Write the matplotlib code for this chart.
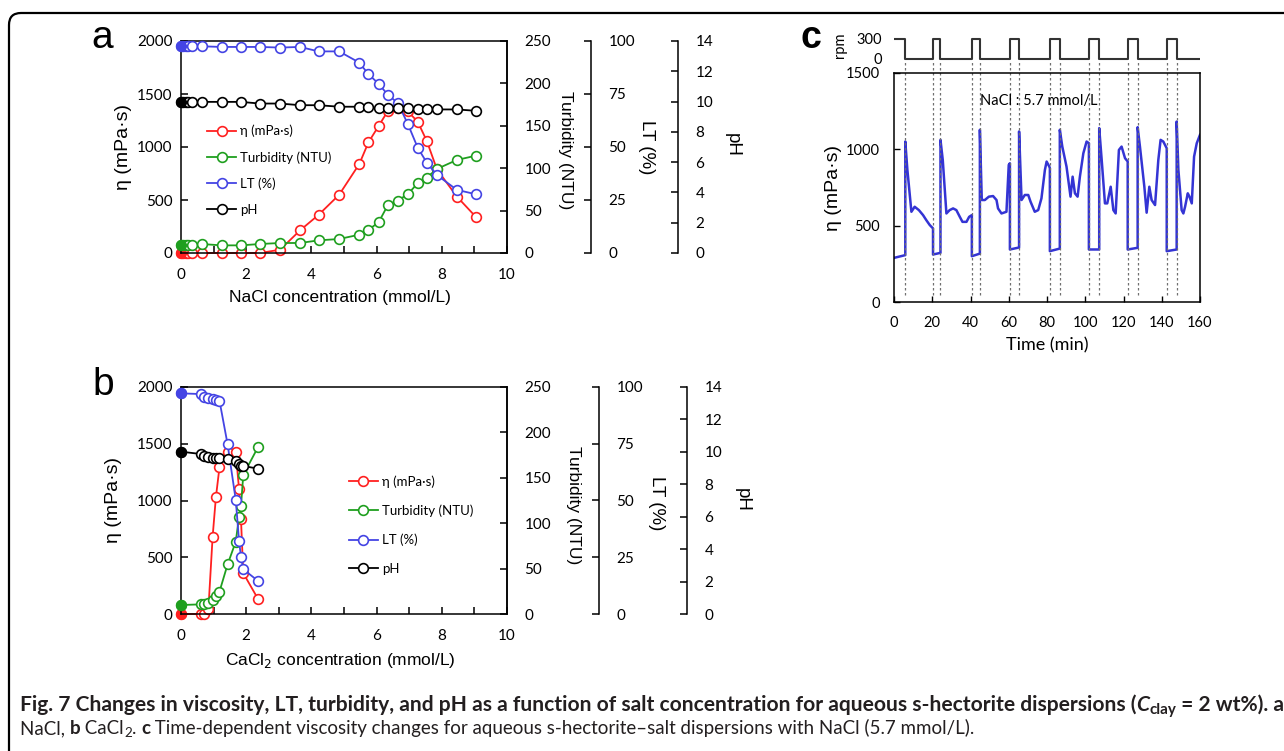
import matplotlib.pyplot as plt
from matplotlib.patches import FancyBboxPatch
from matplotlib.transforms import IdentityTransform, blended_transform_factory

# ---------------- a : NaCl ----------------
nacl = [0, 0.07, 0.14, 0.22, 0.33, 0.63, 1.25, 1.83, 2.42, 3.04, 3.65, 4.22,
        4.85, 5.47, 5.75, 6.06, 6.35, 6.65, 6.96, 7.26, 7.54, 7.85, 8.46, 9.05]
eta_a = [0, 0, 0, 0, 0, 0, 0, 0, 0, 31, 213, 360,
         549, 840, 1044, 1197, 1342, 1370, 1335, 1239, 1057, 790, 533, 339]
turb_a = [9.0, 9.0, 9.0, 9.0, 9.0, 10.6, 9.0, 9.0, 10.6, 11.8, 11.8, 14.9,
          16.5, 21.6, 27.4, 36.1, 56.8, 61.9, 69.4, 82.3, 89.0, 99.1, 109.7, 114.8]
lt_a = [97.6, 97.6, 97.6, 97.6, 97.6, 97.5, 97.2, 97.2, 97.2, 96.9, 97.2, 95.1,
        95.1, 89.8, 84.3, 79.9, 74.5, 70.8, 60.8, 49.7, 42.6, 36.8, 29.8, 27.7]
ph_a = [9.98, 9.98, 9.98, 9.98, 9.98, 9.98, 9.98, 9.98, 9.87, 9.87, 9.76, 9.76,
        9.66, 9.66, 9.66, 9.55, 9.55, 9.60, 9.55, 9.48, 9.48, 9.48, 9.48, 9.39]

# ---------------- b : CaCl2 ----------------
cacl = [0, 0.60, 0.72, 0.84, 0.97, 1.07, 1.18, 1.43, 1.68, 1.78, 1.84, 1.91, 2.37]
eta_b = [0, 0, 0, 40, 681, 1028, 1292, 1425, 1425, 1100, 834, 360, 129]
turb_b = [9.9, 10.6, 11.0, 12.5, 15.4, 20.0, 24.6, 54.7, 79.7, 107.2, 118.9, 153.1, 184.3]
lt_b = [97.2, 96.9, 95.7, 95.3, 94.7, 94.3, 94.0, 74.7, 50.2, 32.2, 25.3, 19.7, 14.5]
ph_b = [10.01, 9.87, 9.74, 9.66, 9.62, 9.62, 9.62, 9.54, 9.44, 9.25, 9.15, 9.13, 8.96]

# ---------------- c : time series, NaCl 5.7 mmol/L ----------------
time_c = [0, 5.9,
          5.9, 7.0, 9.1, 10.8, 13.0, 15.2, 16.9, 18.7, 20.4,
          20.4, 24.3,
          24.3, 25.5, 27.4, 29.1, 30.9, 32.6, 34.4, 35.8, 37.9, 39.3, 40.7,
          40.7, 44.9,
          44.9, 45.9, 47.5, 49.6, 51.8, 53.6, 54.4, 56.2, 58.8, 60.0, 60.6,
          60.6, 65.4,
          65.4, 66.7, 68.4, 70.2, 71.4, 73.6, 75.4, 77.1, 78.9, 79.8, 81.2, 81.5,
          81.5, 86.7,
          86.7, 88.0, 90.2, 92.3, 93.4, 94.6, 96.0, 97.2, 99.0, 100.7, 101.9,
          101.9, 107.3,
          107.3, 108.6, 110.3, 111.5, 113.3, 114.7, 115.9, 117.6, 119.0, 120.8, 122.2,
          122.2, 127.4,
          127.4, 128.6, 130.9, 132.1, 133.5, 134.7, 136.5, 138.2, 139.4, 140.8, 142.6,
          142.6, 147.8,
          147.8, 148.7, 150.4, 151.3, 152.2, 153.6, 154.5, 155.7, 156.9, 158.3, 160.0]
eta_c = [289, 307,
         1051, 865, 591, 624, 602, 569, 536, 504, 482,
         311, 322,
         1062, 930, 580, 602, 613, 602, 558, 525, 525, 558, 569,
         300, 317,
         1128, 668, 668, 690, 694, 668, 613, 580, 591, 898, 909,
         344, 357,
         1117, 668, 701, 701, 657, 591, 602, 679, 865, 920, 887, 876,
         333, 350,
         1128, 1018, 887, 690, 821, 712, 690, 821, 974, 1051, 1040,
         344, 344,
         1139, 930, 646, 646, 755, 602, 580, 996, 1018, 942, 920,
         344, 355,
         1145, 1018, 755, 585, 755, 668, 635, 930, 1062, 1051, 1007,
         333, 344,
         1182, 865, 602, 580, 624, 712, 690, 646, 952, 1040, 1095]
rpm_t = [0, 5.9, 20.4, 24.3, 40.7, 44.9, 60.6, 65.4, 81.5, 86.7,
         101.9, 107.3, 122.2, 127.4, 142.6, 147.8, 160]
rpm_v = [300, 0, 300, 0, 300, 0, 300, 0, 300, 0, 300, 0, 300, 0, 300, 0, 0]

W, H = 1284, 751
PT = 0.72  # points per pixel at dpi 100
plt.rcParams['font.family'] = ['Lato', 'DejaVu Sans']
plt.rcParams['axes.linewidth'] = 1.1
fig = plt.figure(figsize=(W / 100, H / 100), dpi=100)

RED, GREEN, BLUE = '#ff2020', '#1f9f1f', '#4444e4'
LAB = ['Liberation Sans', 'DejaVu Sans']
TS = 11


def box(l, t, r, b):
    return [l / W, 1 - b / H, (r - l) / W, (b - t) / H]


def put(x, y, s, **kw):
    kw.setdefault('ha', 'center')
    kw.setdefault('va', 'center')
    return fig.text(x / W, 1 - y / H, s, **kw)


def salt_panel(top, bottom, x, eta, turb, lt, ph, outs, leg_xy, leg_sp):
    ax = fig.add_axes(box(181, top, 507, bottom))
    ax_t = ax.twinx()
    ax_l = ax.twinx()
    ax_p = ax.twinx()
    series = [(ax, eta, RED, 'η (mPa·s)'), (ax_t, turb, GREEN, 'Turbidity (NTU)'),
              (ax_l, lt, BLUE, 'LT (%)'), (ax_p, ph, 'black', 'pH')]
    handles = []
    for a, y, c, lab in series:
        h, = a.plot(x, y, '-o', color=c, mfc='white', mec=c, ms=7, mew=1.2,
                    lw=1.3, label=lab, clip_on=False)
        a.plot(x[:1], y[:1], 'o', color=c, ms=7, clip_on=False)
        handles.append(h)

    ax.set_xlim(0, 10)
    ax.set_ylim(0, 2000)
    ax.set_yticks(range(0, 2001, 500))
    ax.set_xticks(range(11))
    ax.set_xticklabels([str(v) if v % 2 == 0 else '' for v in range(11)])
    ax.tick_params(direction='in', length=5, width=1.1, labelsize=TS)
    ax.tick_params(axis='x', pad=11)
    ax.tick_params(axis='y', pad=6)

    ax_t.set_ylim(0, 250)
    ax_t.set_yticks(range(0, 251, 50))
    ax_l.set_ylim(0, 100)
    ax_l.set_yticks(range(0, 101, 25))
    ax_p.set_ylim(0, 14)
    ax_p.set_yticks(range(0, 15, 2))
    ax_l.spines['right'].set_position(('outward', outs[0] * PT))
    ax_p.spines['right'].set_position(('outward', outs[1] * PT))
    for a in (ax_t, ax_l, ax_p):
        for s in ('left', 'top', 'bottom'):
            a.spines[s].set_visible(False)
        a.tick_params(axis='y', direction='in', length=5, width=1.1,
                      pad=12.5, labelsize=TS)

    ax_p.legend(handles, [h.get_label() for h in handles], loc='upper left',
                bbox_to_anchor=leg_xy, frameon=False, fontsize=9.5,
                handlelength=2.2, handletextpad=0.3, labelspacing=leg_sp,
                borderaxespad=0, borderpad=0)
    return ax


# panel a
salt_panel(41, 253, nacl, eta_a, turb_a, lt_a, ph_a, (84, 171), (0.08, 0.605), 1.05)
put(102, 38, 'a', fontsize=28, family=LAB)
put(123, 147, 'η (mPa·s)', rotation=90, fontsize=14, family=LAB)
put(340, 298, 'NaCl concentration (mmol/L)', fontsize=12.5, family=LAB)
put(565, 150, 'Turbidity (NTU)', rotation=-90, fontsize=12.5, family=LAB)
put(647, 147, 'LT (%)', rotation=-90, fontsize=13.5, family=LAB)
put(732, 145, 'pH', rotation=-90, fontsize=13.5, family=LAB)

# panel b
salt_panel(387, 614, cacl, eta_b, turb_b, lt_b, ph_b, (92, 180), (0.515, 0.61), 1.25)
put(103, 385, 'b', fontsize=28, family=LAB)
put(114, 500, 'η (mPa·s)', rotation=90, fontsize=14, family=LAB)
put(340, 661, 'CaCl$_2$ concentration (mmol/L)', fontsize=12.5, family=LAB)
put(573, 505, 'Turbidity (NTU)', rotation=-90, fontsize=12.5, family=LAB)
put(657, 503, 'LT (%)', rotation=-90, fontsize=13.5, family=LAB)
put(742, 500, 'pH', rotation=-90, fontsize=13.5, family=LAB)

# panel c
ax_c = fig.add_axes(box(894, 73, 1200, 302))
ax_c.plot(time_c, eta_c, color='#3434d4', lw=1.8)
ax_c.set_xlim(0, 160)
ax_c.set_ylim(0, 1500)
ax_c.set_xticks(range(0, 161, 20))
ax_c.set_yticks(range(0, 1501, 500))
ax_c.tick_params(direction='in', length=4, width=1.0, labelsize=10.5)
ax_c.tick_params(axis='x', pad=10)
ax_c.tick_params(axis='y', pad=10)
tr = blended_transform_factory(ax_c.transData, ax_c.transAxes)
ax_c.vlines(rpm_t[1:-1], 0.03, 1.052, transform=tr, colors='#707070',
            linestyles=(0, (2, 2)), lw=0.9, clip_on=False)
ax_c.text(45, 1317, 'NaCl : 5.7 mmol/L', fontsize=10.5, va='center', ha='left')

ax_r = fig.add_axes(box(894, 36, 1200, 64))
ax_r.step(rpm_t, rpm_v, where='post', color='#333333', lw=1.5)
ax_r.set_xlim(0, 160)
ax_r.set_ylim(-75, 345)
ax_r.set_xticks([])
ax_r.set_yticks([0, 300])
ax_r.tick_params(length=0, pad=9, labelsize=10.5)
for s in ax_r.spines.values():
    s.set_visible(False)
ax_r.patch.set_visible(False)

put(811, 38, 'c', fontsize=27, fontweight='bold', family=LAB)
put(840, 45, 'rpm', rotation=90, fontsize=10.5)
put(833, 188, 'η (mPa·s)', rotation=90, fontsize=14, family=LAB)
put(1047, 345, 'Time (min)', fontsize=13)

# outer rounded frame
frame = FancyBboxPatch((9, -30), 1320, H - 13 + 30, boxstyle='round,pad=0,rounding_size=12',
                       transform=IdentityTransform(), fill=False, lw=1.6, ec='black')
fig.add_artist(frame)

# caption, laid out piece by piece
renderer = fig.canvas.get_renderer()
CAPC = '#231f20'
CAPF = ['Lato', 'DejaVu Sans']


def run(pieces, x0, base, size):
    x = x0
    made = []
    for s, weight, style, dy, sc in pieces:
        t = fig.text(x / W, 1 - (base + dy) / H, s, fontsize=size * sc, va='baseline',
                     ha='left', fontweight=weight, fontstyle=style, family=CAPF, color=CAPC)
        x += t.get_window_extent(renderer).width
        made.append(t)
    return x - x0, made


def fitted(pieces, x0, base, width):
    w, made = run(pieces, x0, base, 12)
    for t in made:
        t.remove()
    run(pieces, x0, base, 12 * width / w)


line1 = [('Fig. 7 Changes in viscosity, LT, turbidity, and pH as a function of salt '
          'concentration for aqueous s-hectorite dispersions (', 'bold', 'normal', 0, 1),
         ('C', 'bold', 'italic', 0, 1),
         ('clay', 'bold', 'normal', 3, 0.72),
         (' = 2 wt%). a', 'bold', 'normal', 0, 1)]
line2 = [('NaCl, ', 'normal', 'normal', 0, 1),
         ('b', 'bold', 'normal', 0, 1),
         (' CaCl', 'normal', 'normal', 0, 1),
         ('2', 'normal', 'normal', 3, 0.72),
         ('. ', 'normal', 'normal', 0, 1),
         ('c', 'bold', 'normal', 0, 1),
         (' Time-dependent viscosity changes for aqueous s-hectorite–salt dispersions '
          'with NaCl (5.7 mmol/L).', 'normal', 'normal', 0, 1)]

fitted(line1, 20, 711, 1258)
fitted(line2, 20, 734, 950)

fig.savefig('out.png', dpi=100)
